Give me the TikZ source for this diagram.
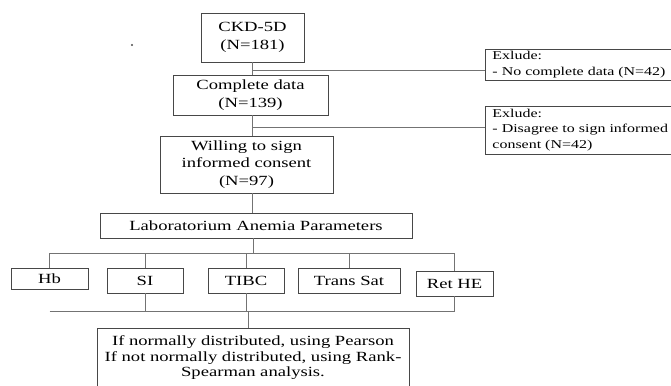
\documentclass[tikz,border=0pt]{standalone}
\usepackage{fontspec}
\setmainfont[FakeStretch=1.33]{Liberation Serif}
\begin{document}
\begin{tikzpicture}[x=1pt,y=-1pt,
  box/.style={draw=black!72, line width=0.9pt, inner sep=0pt, align=center,
    font=\fontsize{14}{17.5}\selectfont, text=black},
  exbox/.style={draw=black!72, line width=0.9pt, inner xsep=7pt, inner ysep=0pt,
    align=left, text width=205pt, font=\fontsize{12}{15.8}\selectfont,
    text=black, anchor=west},
  conn/.style={draw=black!55, line width=0.7pt}]
\useasboundingbox (0,0) rectangle (671,385);
\clip (0,0) rectangle (671,385);
% main column
\node[box, minimum width=103pt, minimum height=49pt] (ckd) at (252.5,37.5) {CKD-5D\\(N=181)};
\node[box, minimum width=155pt, minimum height=40pt] (comp) at (250.5,95) {Complete data\\(N=139)};
\node[box, minimum width=173pt, minimum height=57pt] (will) at (246.5,164.5) {Willing to sign\\informed consent\\(N=97)};
\node[box, minimum width=312pt, minimum height=25pt] (lab) at (256,225.5) {Laboratorium Anemia Parameters};
% parameters
\node[box, minimum width=77pt, minimum height=21pt] (hb) at (49.5,278.5) {Hb};
\node[box, minimum width=76pt, minimum height=25pt] (si) at (145,280.5) {SI};
\node[box, minimum width=76pt, minimum height=25pt] (tibc) at (246,280.5) {TIBC};
\node[box, minimum width=102pt, minimum height=25pt] (ts) at (349,280.5) {Trans Sat};
\node[box, minimum width=77pt, minimum height=25pt] (ret) at (454.5,283.5) {Ret HE};
% result
\node[box, minimum width=312pt, minimum height=60pt, font=\fontsize{14}{15.5}\selectfont] (res) at (253,358)
  {If normally distributed, using Pearson\\If not normally distributed, using Rank-\\Spearman analysis.};
% exclusions
\node[exbox, minimum height=31pt] (ex1) at (485,64.5) {Exlude:\\- No complete data (N=42)};
\node[exbox, minimum height=48pt] (ex2) at (485,130) {Exlude:\\- Disagree to sign informed\\consent (N=42)};
% connectors
\coordinate (b1) at (252,70);
\coordinate (b2) at (252,127);
\draw[conn] (ckd.south -| b1) -- (comp.north -| b1);
\draw[conn] (b1) -- (b1 -| ex1.west);
\draw[conn] (comp.south -| b2) -- (will.north -| b2);
\draw[conn] (b2) -- (b2 -| ex2.west);
\draw[conn] (will.south -| b2) -- (lab.north -| b2);
\coordinate (bus) at (253,253);
\draw[conn] (lab.south -| bus) -- (bus);
\draw[conn] (hb.north) -- (hb.north |- bus) -- (ret.north |- bus) -- (ret.north);
\draw[conn] (si.north) -- (si.north |- bus);
\draw[conn] (tibc.north) -- (tibc.north |- bus);
\draw[conn] (ts.north) -- (ts.north |- bus);
\coordinate (bot) at (248,311);
\draw[conn] (si.south) -- (si.south |- bot);
\draw[conn] (tibc.south) -- (tibc.south |- bot);
\draw[conn] (ret.south) -- (ret.south |- bot);
\draw[conn] (hb.south |- bot) -- (ret.south |- bot);
\draw[conn] (bot) -- (res.north -| bot);
% stray speck
\fill[black!70] (132,45) circle (1.2pt);
\end{tikzpicture}
\end{document}
